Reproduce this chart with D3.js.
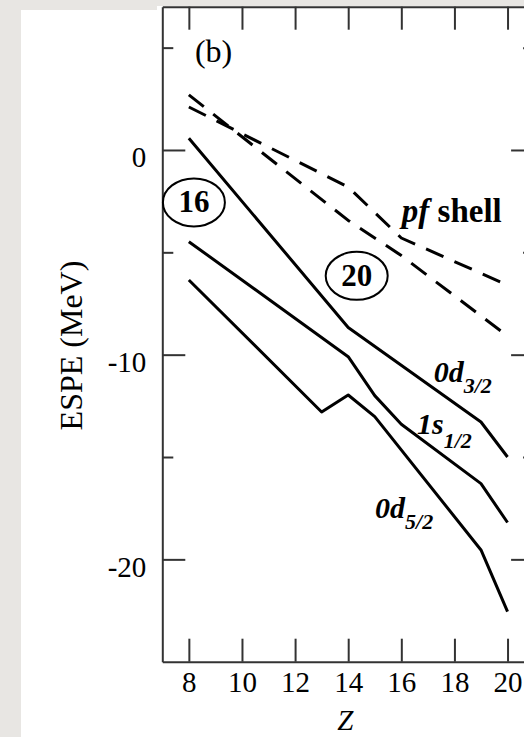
<!DOCTYPE html>
<html>
<head>
<meta charset="utf-8">
<script src="https://cdn.jsdelivr.net/npm/d3@7"></script>
<style>
  html, body { margin: 0; padding: 0; background: #e8e6e3; }
  svg { display: block; }
  text { font-family: "Liberation Serif", "Times New Roman", serif; fill: #000; }
</style>
</head>
<body>
<svg id="chart" width="524" height="737"></svg>
<script>
// Proton number axis and energy axis ticks
const zTicks = [8, 10, 12, 14, 16, 18, 20];
const eMajor = [0, -10, -20];
const eMinor = [5, -5, -15];

// Effective single-particle energies (MeV) of the sd orbits
const zD32 = [8, 14, 19, 20];
const eD32 = [0.57, -8.67, -13.29, -15.0];
const zS12 = [8, 14, 15, 16, 19, 20];
const eS12 = [-4.48, -10.1, -12.0, -13.4, -16.3, -18.2];
const zD52 = [8, 13, 14, 15, 19, 20];
const eD52 = [-6.35, -12.8, -11.97, -13.03, -19.54, -22.55];

// pf-shell orbits (dashed)
const zPfA = [8, 14, 16, 20];
const ePfA = [2.1, -1.81, -4.3, -6.6];
const zPfB = [8, 14, 16, 20];
const ePfB = [2.69, -3.44, -5.16, -9.09];

const svg = d3.select("#chart");

// page background panels
svg.append("rect").attr("x", 21).attr("y", 10).attr("width", 503).attr("height", 727).attr("fill", "#fff");
svg.append("rect").attr("x", 157).attr("y", 6).attr("width", 367).attr("height", 731).attr("fill", "#fff");

const plotLeft = 162.3, plotTop = 6.7, plotRight = 534.1, plotBottom = 661.7;
const x = d3.scaleLinear().domain([7, 21]).range([plotLeft, plotRight]);
const y = d3.scaleLinear().domain([7, -25]).range([plotTop, plotBottom]);

const axisColor = "#333";
function styleAxis(g) {
  g.attr("color", axisColor);
  g.select(".domain").attr("stroke-width", 2);
  g.selectAll(".tick line").attr("stroke-width", 2);
}

// bottom axis with labels
const gB = svg.append("g").attr("transform", `translate(0,${plotBottom})`)
  .call(d3.axisBottom(x).tickValues(zTicks).tickSizeInner(-23).tickSizeOuter(0).tickFormat(d3.format("d")));
styleAxis(gB);
gB.selectAll(".tick text").attr("font-size", 29).attr("font-family", "Liberation Serif")
  .attr("fill", "#000").attr("y", 30.5).attr("dy", 0);

// top axis, ticks only
const gT = svg.append("g").attr("transform", `translate(0,${plotTop})`)
  .call(d3.axisTop(x).tickValues(zTicks).tickSizeInner(-23).tickSizeOuter(0).tickFormat(""));
styleAxis(gT);

// left axis with labels
const gL = svg.append("g").attr("transform", `translate(${plotLeft},0)`)
  .call(d3.axisLeft(y).tickValues(eMajor).tickSizeInner(-23).tickSizeOuter(0).tickPadding(16)
    .tickFormat(d => String(d)));
styleAxis(gL);
gL.selectAll(".tick text").attr("font-size", 29).attr("font-family", "Liberation Serif")
  .attr("fill", "#000").attr("dy", "17px");
const gLm = svg.append("g").attr("transform", `translate(${plotLeft},0)`)
  .call(d3.axisLeft(y).tickValues(eMinor).tickSizeInner(-11).tickSizeOuter(0).tickFormat(""));
styleAxis(gLm);
gLm.select(".domain").remove();

// right axis, ticks only
const gR = svg.append("g").attr("transform", `translate(${plotRight},0)`)
  .call(d3.axisRight(y).tickValues(eMajor).tickSizeInner(-23).tickSizeOuter(0).tickFormat(""));
styleAxis(gR);
const gRm = svg.append("g").attr("transform", `translate(${plotRight},0)`)
  .call(d3.axisRight(y).tickValues(eMinor).tickSizeInner(-11).tickSizeOuter(0).tickFormat(""));
styleAxis(gRm);
gRm.select(".domain").remove();

// curves
const line = d3.line().x(d => x(d[0])).y(d => y(d[1]));
function draw(zs, es, dashed) {
  svg.append("path")
    .datum(zs.map((z, i) => [z, es[i]]))
    .attr("d", line)
    .attr("fill", "none")
    .attr("stroke", "#000")
    .attr("stroke-width", 3)
    .attr("stroke-linejoin", "round")
    .attr("stroke-dasharray", dashed ? "19 12" : null);
}
draw(zD32, eD32, false);
draw(zS12, eS12, false);
draw(zD52, eD52, false);
draw(zPfA, ePfA, true);
draw(zPfB, ePfB, true);

// axis titles
svg.append("text")
  .attr("transform", `translate(82,345.5) rotate(-90)`)
  .attr("text-anchor", "middle").attr("font-size", 32)
  .text("ESPE (MeV)");
svg.append("text")
  .attr("x", (plotLeft + plotRight) / 2 - 3).attr("y", 730)
  .attr("text-anchor", "middle").attr("font-size", 29).attr("font-style", "italic")
  .text("Z");

// panel tag
svg.append("text").attr("x", x(8.23)).attr("y", y(4.3)).attr("font-size", 32).text("(b)");

// circled magic numbers
function magic(z, e, label) {
  svg.append("ellipse").attr("cx", x(z)).attr("cy", y(e)).attr("rx", 31).attr("ry", 24)
    .attr("fill", "none").attr("stroke", "#000").attr("stroke-width", 2);
  svg.append("text").attr("x", x(z)).attr("y", y(e) + 10).attr("text-anchor", "middle")
    .attr("font-size", 31).attr("font-weight", "bold").text(label);
}
magic(8.19, -2.56, "16");
magic(14.32, -6.15, "20");

// orbit labels
const pf = svg.append("text").attr("x", x(16.02)).attr("y", y(-3.52))
  .attr("font-size", 33).attr("font-weight", "bold");
pf.append("tspan").attr("font-style", "italic").text("pf");
pf.append("tspan").text(" shell");

function orbit(z, e, main, sub, dy) {
  const t = svg.append("text").attr("x", x(z)).attr("y", y(e))
    .attr("font-size", 30).attr("font-weight", "bold").attr("font-style", "italic");
  t.append("tspan").text(main);
  t.append("tspan").attr("font-size", 22).attr("dy", dy).text(sub);
}
orbit(17.22, -11.32, "0d", "3/2", 11);
orbit(16.59, -13.87, "1s", "1/2", 14);
orbit(15.01, -17.98, "0d", "5/2", 11);
</script>
</body>
</html>
